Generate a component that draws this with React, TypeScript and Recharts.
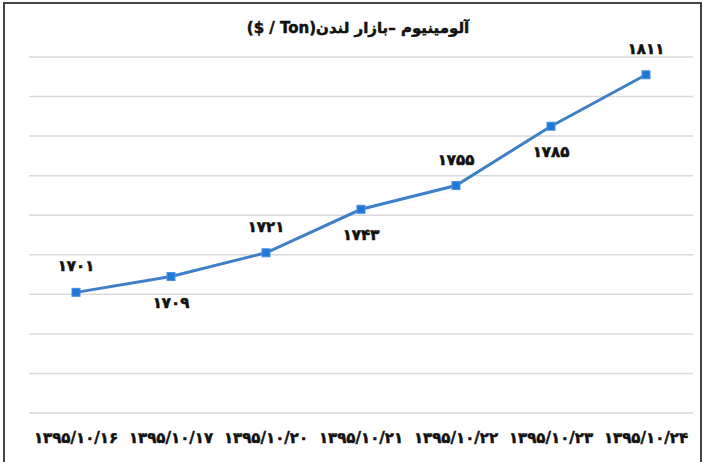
import { CartesianGrid, LabelList, Line, LineChart, XAxis, YAxis } from "recharts";

const dates = [
  "۱۳۹۵/۱۰/۱۶",
  "۱۳۹۵/۱۰/۱۷",
  "۱۳۹۵/۱۰/۲۰",
  "۱۳۹۵/۱۰/۲۱",
  "۱۳۹۵/۱۰/۲۲",
  "۱۳۹۵/۱۰/۲۳",
  "۱۳۹۵/۱۰/۲۴",
];
const prices = [1701, 1709, 1721, 1743, 1755, 1785, 1811];
const yTicks = [1640, 1660, 1680, 1700, 1720, 1740, 1760, 1780, 1800, 1820];

const data = dates.map((date, i) => ({ date, price: prices[i] }));

const FONT = "'DejaVu Sans', sans-serif";
const FA_DIGITS = "۰۱۲۳۴۵۶۷۸۹";
const toFa = (n: number) => String(n).replace(/\d/g, (d) => FA_DIGITS[Number(d)]);

function SquareDot(props: any) {
  const { cx, cy } = props;
  if (cx == null || cy == null) return null;
  return <rect x={cx - 4} y={cy - 4} width={8} height={8} fill="#1f78d6" stroke="#4a90e2" strokeWidth={1} />;
}

function PriceLabel(props: any) {
  const { x, y, value, index } = props;
  const above = index % 2 === 0;
  return (
    <text
      x={x}
      y={above ? y - 26 : y + 26}
      textAnchor="middle"
      dominantBaseline="central"
      fontFamily={FONT}
      fontWeight="bold"
      fontSize={15}
      fill="#111"
      stroke="#111"
      strokeWidth={0.6}
    >
      {toFa(value)}
    </text>
  );
}

export default function App() {
  return (
    <div style={{ position: "absolute", left: 0, top: 0, width: 706, height: 462, background: "#fff", overflow: "hidden" }}>
      <div
        style={{
          position: "absolute",
          left: 3,
          top: 2,
          width: 699,
          height: 500,
          border: "2px solid #444",
          boxSizing: "border-box",
        }}
      />
      <div
        style={{
          position: "absolute",
          left: 0,
          top: 19,
          width: 716,
          textAlign: "center",
          fontFamily: FONT,
          fontWeight: "bold",
          fontSize: 15,
          color: "#111",
          direction: "ltr",
          WebkitTextStroke: "0.5px #111",
        }}
      >
        ($ / Ton)آلومینیوم –بازار لندن
      </div>
      <div style={{ position: "absolute", left: 0, top: 0 }}>
        <LineChart width={706} height={462} data={data} margin={{ top: 57, right: 13, bottom: 19, left: 29 }}>
          <CartesianGrid vertical={false} stroke="#d9d9d9" strokeWidth={1.5} />
          <XAxis
            dataKey="date"
            axisLine={false}
            tickLine={false}
            interval={0}
            height={30}
            tickMargin={13}
            padding={{ left: 47, right: 47 }}
            tick={{ fontFamily: FONT, fontWeight: "bold", fontSize: 15, fill: "#111", stroke: "#111", strokeWidth: 0.5 }}
          />
          <YAxis hide domain={[1640, 1820]} ticks={yTicks} />
          <Line
            type="linear"
            dataKey="price"
            stroke="#3f7fc8"
            strokeWidth={3}
            dot={<SquareDot />}
            activeDot={false}
            isAnimationActive={false}
          >
            <LabelList dataKey="price" content={<PriceLabel />} />
          </Line>
        </LineChart>
      </div>
    </div>
  );
}
